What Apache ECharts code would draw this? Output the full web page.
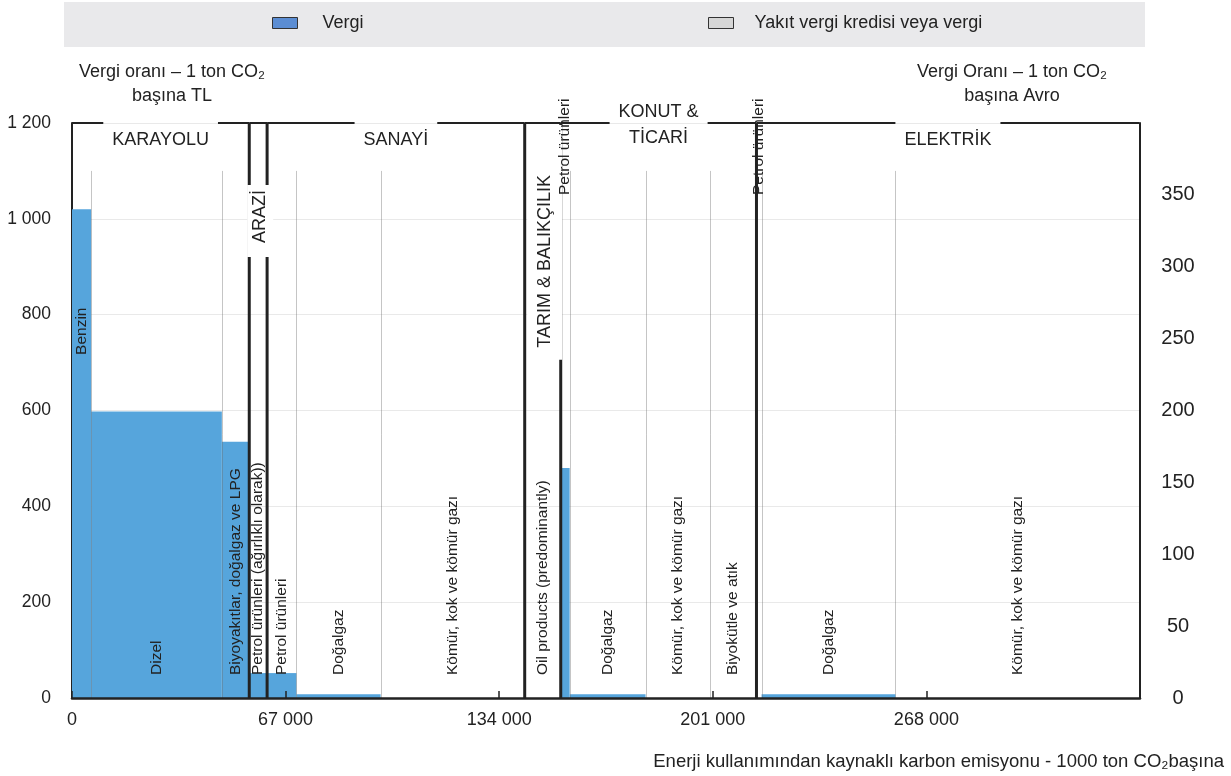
<!DOCTYPE html>
<html><head><meta charset="utf-8">
<script src="https://cdn.jsdelivr.net/npm/echarts@6/dist/echarts.min.js"></script>
<style>html,body{margin:0;padding:0;background:#fff}#c{width:1231px;height:776px}</style>
</head><body><div id="c"></div>
<script>
// ---- data ----
const sectorNames = ['KARAYOLU', 'ARAZİ', 'SANAYİ', 'TARIM & BALIKÇILIK', 'KONUT &\nTİCARİ', 'ELEKTRİK'];
const fuelLabels = ['Benzin', 'Dizel', 'Biyoyakıtlar, doğalgaz ve LPG', 'Petrol ürünleri (ağırlıklı olarak))',
  'Petrol ürünleri', 'Doğalgaz', 'Kömür, kok ve kömür gazı', 'Oil products (predominantly)',
  'Petrol ürünleri', 'Doğalgaz', 'Kömür, kok ve kömür gazı', 'Biyokütle ve atık',
  'Petrol ürünleri', 'Doğalgaz', 'Kömür, kok ve kömür gazı'];
const fuelSector = [0, 0, 0, 1, 2, 2, 2, 3, 4, 4, 4, 4, 5, 5, 5];
const emissions = [6000, 41000, 8600, 5600, 9200, 26400, 45200, 11300, 2800, 23800, 20100, 14700, 1600, 42000, 76500];
const taxTL = [1020, 598, 535, 52, 52, 8, 0, 0, 480, 8, 0, 0, 0, 8, 0];
const creditTL = [0, 0, 0, 0, 0, 0, 0, 0, 0, 0, 0, 0, 0, 0, 0];
const seriesNames = ['Vergi', 'Yakıt vergi kredisi veya vergi'];
const xTickStep = 67000, xMax = 335000;
const yLeftMax = 1200, yLeftStep = 200, yRightMax = 400, yRightStep = 50;

// ---- derived ----
const FONT = "'Liberation Sans', Arial, sans-serif";
const BLUE = '#56a5dc';
const starts = [], ends = [];
let acc = 0;
emissions.forEach(w => { starts.push(acc); acc += w; ends.push(acc); });
const barData = emissions.map((w, i) => [starts[i], ends[i], taxTL[i], i]);
const creditData = emissions.map((w, i) => [starts[i], ends[i], creditTL[i], i]);
const sectorData = sectorNames.map((n, k) => {
  const idx = fuelSector.map((s, i) => s === k ? i : -1).filter(i => i >= 0);
  return [starts[idx[0]], ends[idx[idx.length - 1]], k];
});
const fmt = v => String(v).replace(/\B(?=(\d{3})+(?!\d))/g, ' ');

const ctx = document.createElement('canvas').getContext('2d');
ctx.font = '18px ' + FONT;
const measure = t => ctx.measureText(t).width;

const SEP_TOP = 1100;            // category separators start here (TL)
const LABEL_BASE = {0: 716};     // Benzin label sits higher
const VLAYOUT = {
  1: {top: 62, pad: [4, 5, 4, 14]},
  3: {top: 2, pad: [8, 50, 9, 12]}
};

function seg(x1, y1, x2, y2, w, c, z2) {
  return {type: 'line', z2: z2 || 1, shape: {x1, y1, x2, y2}, style: {stroke: c || '#222', lineWidth: w || 2}};
}

function renderBars(fill) {
  return function (params, api) {
    const x0 = api.value(0), x1 = api.value(1), v = api.value(2), i = api.value(3);
    const a = api.coord([x0, v]), b = api.coord([x1, 0]);
    const children = [{type: 'rect', shape: {x: a[0], y: a[1], width: b[0] - a[0], height: b[1] - a[1]}, style: {fill}}];
    if (fill === BLUE && i < fuelLabels.length - 1 && fuelSector[i + 1] === fuelSector[i]) {
      const t = api.coord([x1, SEP_TOP]);
      const xx = Math.round(b[0]) + 0.5;
      children.push(seg(xx, t[1], xx, b[1], 1, 'rgba(110,110,110,0.4)'));
    }
    return {type: 'group', children};
  };
}

function renderFuelLabels(params, api) {
  const x0 = api.value(0), x1 = api.value(1), i = api.value(3);
  const a = api.coord([x0, 0]), b = api.coord([x1, 0]);
  const cx = (a[0] + b[0]) / 2;
  let y;
  if (b[0] - a[0] < 12) y = api.coord([0, yLeftMax])[1] + 72;
  else if (LABEL_BASE[i] != null) y = api.coord([0, LABEL_BASE[i]])[1];
  else y = a[1] - 23;
  return {type: 'text', x: cx, y, rotation: Math.PI / 2,
    style: {text: fuelLabels[i], fill: '#222', fontSize: 15.5, fontFamily: FONT, align: 'left', verticalAlign: 'middle'}};
}

function renderSectors(params, api) {
  const s = api.value(0), e = api.value(1), k = api.value(2);
  const tl = api.coord([s, yLeftMax]), tr = api.coord([e, yLeftMax]), br = api.coord([e, 0]);
  const cx = (tl[0] + tr[0]) / 2;
  const children = [];
  if (tr[0] - tl[0] > 60) {
    const lines = sectorNames[k].split('\n');
    const g = Math.max(...lines.map(measure)) / 2 + 9;
    children.push(seg(tl[0], tl[1], cx - g, tl[1], 2), seg(cx + g, tl[1], tr[0], tr[1], 2));
    children.push({type: 'text', x: cx, y: tl[1] + (lines.length > 1 ? 2 : 17), z2: 10,
      style: {text: sectorNames[k], fill: '#222', fontSize: 18, fontFamily: FONT, align: 'center', verticalAlign: 'middle', lineHeight: 26}});
  } else {
    children.push(seg(tl[0], tl[1], tr[0], tr[1], 2));
    const lay = VLAYOUT[k] || {top: 60, pad: 4};
    children.push({type: 'text', x: cx + 2, y: tl[1] + lay.top, rotation: Math.PI / 2, z2: 10,
      style: {text: sectorNames[k], fill: '#222', fontSize: 18, fontFamily: FONT, align: 'right', verticalAlign: 'middle',
        backgroundColor: '#fff', padding: lay.pad}});
  }
  if (k < sectorNames.length - 1) children.push(seg(tr[0], tr[1], br[0], br[1], 3, '#222', 5));
  return {type: 'group', children};
}

const chart = echarts.init(document.getElementById('c'), null, {renderer: 'canvas'});
const legendText = {fontSize: 18, color: '#222', fontFamily: FONT};
chart.setOption({
  animation: false,
  textStyle: {fontFamily: FONT},
  grid: {left: 72, right: 91, top: 123, bottom: 78},
  legend: [
    {data: [{name: seriesNames[0], itemStyle: {color: '#5b8dd3', borderColor: '#333', borderWidth: 1}}],
      left: 272, top: 14, padding: 0, icon: 'rect', itemWidth: 25, itemHeight: 11, selectedMode: false,
      textStyle: Object.assign({padding: [0, 0, 0, 20]}, legendText)},
    {data: [{name: seriesNames[1], itemStyle: {color: '#d6d6d6', borderColor: '#333', borderWidth: 1}}],
      left: 708, top: 14, padding: 0, icon: 'rect', itemWidth: 25, itemHeight: 11, selectedMode: false,
      textStyle: Object.assign({padding: [0, 0, 0, 16]}, legendText)}
  ],
  graphic: [
    {type: 'rect', z: -10, shape: {x: 64, y: 2, width: 1081, height: 45}, style: {fill: '#e9e9eb'}},
    {type: 'text', x: 172, y: 84, style: {text: 'Vergi oranı – 1 ton CO₂\nbaşına TL', fill: '#222', fontSize: 18, fontFamily: FONT, align: 'center', verticalAlign: 'middle', lineHeight: 24}},
    {type: 'text', x: 1012, y: 84, style: {text: 'Vergi Oranı – 1 ton CO₂\nbaşına Avro', fill: '#222', fontSize: 18, fontFamily: FONT, align: 'center', verticalAlign: 'middle', lineHeight: 24}},
    {type: 'text', x: 1224, y: 762, style: {text: 'Enerji kullanımından kaynaklı karbon emisyonu - 1000 ton CO₂başına', fill: '#222', fontSize: 18.5, fontFamily: FONT, align: 'right', verticalAlign: 'middle'}}
  ],
  xAxis: {type: 'value', min: 0, max: xMax, interval: xTickStep, z: 10,
    axisLine: {show: true, onZero: false, lineStyle: {color: '#222', width: 2.5}},
    axisTick: {show: true, inside: true, length: 7, lineStyle: {color: '#222', width: 1.5}},
    axisLabel: {fontSize: 18, color: '#222', margin: 13, showMaxLabel: false, formatter: fmt},
    splitLine: {show: false}},
  yAxis: [
    {type: 'value', min: 0, max: yLeftMax, interval: yLeftStep, position: 'left',
      axisLine: {show: true, onZero: false, lineStyle: {color: '#222', width: 2}},
      axisTick: {show: false},
      axisLabel: {fontSize: 17.5, color: '#222', margin: 21, formatter: fmt},
      splitLine: {show: true, lineStyle: {color: '#e9e9e9', width: 1}}},
    {type: 'value', min: 0, max: yRightMax, interval: yRightStep, position: 'right',
      axisLine: {show: true, onZero: false, lineStyle: {color: '#222', width: 2}},
      axisTick: {show: false},
      axisLabel: {fontSize: 20, color: '#222', margin: 38, align: 'center', showMaxLabel: false, formatter: fmt},
      splitLine: {show: false}}
  ],
  series: [
    {name: seriesNames[0], type: 'custom', z: 2, renderItem: renderBars(BLUE), data: barData, encode: {x: [0, 1], y: 2}, itemStyle: {color: BLUE}},
    {name: seriesNames[1], type: 'custom', z: 2, renderItem: renderBars('#d6d6d6'), data: creditData, encode: {x: [0, 1], y: 2}, itemStyle: {color: '#d6d6d6'}},
    {name: 'sectors', type: 'custom', z: 3, renderItem: renderSectors, data: sectorData, encode: {x: [0, 1]}, silent: true},
    {name: 'labels', type: 'custom', z: 4, renderItem: renderFuelLabels, data: barData, encode: {x: [0, 1]}, silent: true}
  ]
});
</script></body></html>
